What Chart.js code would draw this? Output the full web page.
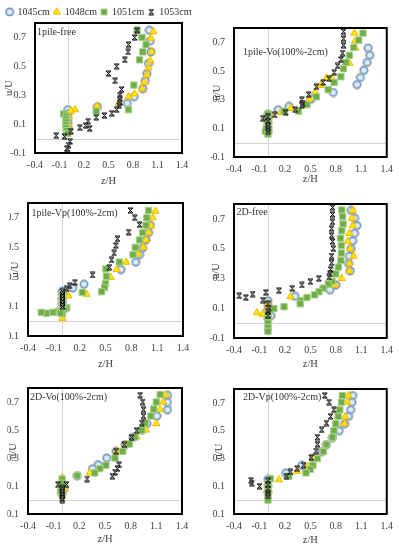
<!DOCTYPE html>
<html>
<head>
<meta charset="utf-8">
<script src="https://cdn.jsdelivr.net/npm/chart.js@4.4.1/dist/chart.umd.min.js"></script>
<style>
  body { margin: 0; background: #fff; width: 399px; height: 550px; position: relative; overflow: hidden; }
  canvas { position: absolute; }
</style>
</head>
<body>
<canvas id="legend" width="198" height="30" style="left:0;top:0"></canvas>
<canvas id="c1"></canvas>
<canvas id="c2"></canvas>
<canvas id="c3"></canvas>
<canvas id="c4"></canvas>
<canvas id="c5"></canvas>
<canvas id="c6"></canvas>
<script>
// series (measuring stations) and axis ticks
const seriesNames = ['1045cm', '1048cm', '1051cm', '1053cm'];
const zTicks = [-0.4, -0.1, 0.2, 0.5, 0.8, 1.1, 1.4];
const zTickLabels = ['-0.4', '-0.1', '0.2', '0.5', '0.8', '1.1', '1.4'];
const uTicks = [-0.1, 0.1, 0.3, 0.5, 0.7];
const uTickLabels = ['-0.1', '0.1', '0.3', '0.5', '0.7'];
const panelTitles = ['1pile-free', '1pile-Vo(100%-2cm)', '1pile-Vp(100%-2cm)', '2D-free', '2D-Vo(100%-2cm)', '2D-Vp(100%-2cm)'];

// [z/H, u/U] pairs
// 1pile-free
const pf1045 = [[1.0,0.75],[1.01,0.675],[1.02,0.60],[0.99,0.52],[0.97,0.45],[0.95,0.40],[0.92,0.345],[0.815,0.29],[0.73,0.245],[0.365,0.22],[0.0,0.2],[0.0,0.17],[0.0,0.14],[0.0,0.11],[0.0,0.08],[0.0,0.05]];
const pf1048 = [[1.05,0.74],[1.02,0.695],[1.03,0.60],[1.01,0.54],[0.99,0.49],[0.97,0.44],[0.94,0.39],[0.91,0.345],[0.82,0.31],[0.745,0.29],[0.63,0.245],[0.36,0.225],[0.09,0.20],[0.04,0.19],[0.01,0.15],[0.01,0.10],[0.02,0.05]];
const pf1051 = [[0.85,0.75],[0.91,0.70],[0.96,0.65],[0.92,0.60],[0.88,0.545],[0.81,0.37],[0.745,0.20],[0.35,0.19],[-0.05,0.17],[-0.02,0.155],[-0.02,0.135],[-0.02,0.115],[-0.02,0.095],[-0.02,0.075],[-0.01,0.055],[0.0,0.035]];
const pf1053 = [[0.85,0.75],[0.82,0.70],[0.745,0.65],[0.74,0.60],[0.70,0.545],[0.60,0.50],[0.50,0.45],[0.58,0.40],[0.66,0.34],[0.64,0.30],[0.64,0.275],[0.64,0.25],[0.63,0.23],[0.60,0.20],[0.54,0.175],[0.45,0.16],[0.35,0.147],[0.25,0.12],[0.22,0.09],[0.15,0.075],[0.27,0.07],[0.04,0.05],[-0.04,0.015],[-0.14,0.02],[0.03,-0.02],[0.01,-0.045],[-0.01,-0.07],[0.0,-0.1]];
// 1pile-Vo
const pvo1045 = [[1.18,0.66],[1.2,0.61],[1.17,0.56],[1.13,0.505],[1.09,0.455],[1.05,0.405],[0.77,0.35],[0.51,0.305],[0.25,0.253],[0.12,0.23],[0.0,0.2],[0.0,0.17],[0.0,0.14],[0.0,0.11],[0.0,0.08]];
const pvo1048 = [[1.02,0.764],[1.03,0.71],[1.03,0.66],[0.96,0.554],[0.75,0.448],[0.69,0.45],[0.62,0.40],[0.556,0.352],[0.49,0.305],[0.27,0.24],[0.15,0.21],[0.02,0.2],[0.0,0.15],[-0.01,0.08]];
const pvo1051 = [[1.12,0.764],[1.07,0.716],[1.01,0.665],[0.96,0.61],[0.92,0.56],[0.89,0.516],[0.86,0.46],[0.78,0.42],[0.71,0.37],[0.57,0.32],[0.46,0.265],[0.36,0.22],[0.19,0.22],[0.0,0.2],[-0.02,0.17],[0.0,0.14],[-0.02,0.1],[-0.03,0.08],[0.0,0.06],[0.01,0.08]];
const pvo1053 = [[0.89,0.775],[0.89,0.725],[0.89,0.68],[0.88,0.625],[0.86,0.58],[0.82,0.535],[0.78,0.49],[0.72,0.446],[0.65,0.42],[0.57,0.39],[0.48,0.335],[0.40,0.30],[0.41,0.275],[0.40,0.26],[0.32,0.23],[0.21,0.21],[0.08,0.194],[-0.06,0.17],[0.0,0.18],[0.0,0.15],[0.0,0.12],[0.0,0.10],[0.0,0.08]];
// 1pile-Vp
const pvp1045 = [[1.02,0.65],[1.0,0.60],[0.97,0.55],[0.93,0.495],[0.895,0.45],[0.85,0.40],[0.68,0.35],[0.25,0.25],[0.12,0.225],[0.0,0.205],[0.0,0.18],[0.0,0.15],[0.0,0.12],[0.0,0.09]];
const pvp1048 = [[1.08,0.745],[1.05,0.70],[1.03,0.645],[1.0,0.60],[0.97,0.55],[0.94,0.50],[0.88,0.455],[0.74,0.40],[0.63,0.35],[0.56,0.297],[0.28,0.183],[0.07,0.172],[0.0,0.12],[0.0,0.08],[0.0,0.02]];
const pvp1051 = [[1.0,0.75],[0.98,0.70],[0.97,0.65],[0.93,0.60],[0.895,0.55],[0.845,0.50],[0.82,0.45],[0.66,0.40],[0.505,0.354],[0.51,0.304],[0.50,0.256],[0.49,0.229],[0.455,0.20],[0.23,0.195],[0.0,0.18],[0.0,0.15],[0.0,0.12],[0.05,0.09],[0.02,0.08],[-0.03,0.07],[-0.06,0.065],[-0.11,0.06],[-0.186,0.054],[-0.245,0.06],[0.0,0.05],[-0.02,0.055]];
const pvp1053 = [[0.79,0.75],[0.84,0.70],[0.895,0.653],[0.77,0.603],[0.64,0.558],[0.62,0.512],[0.60,0.462],[0.57,0.415],[0.545,0.365],[0.35,0.313],[0.145,0.263],[0.086,0.24],[0.05,0.22],[0.0,0.2],[0.0,0.18],[0.0,0.16],[0.0,0.14],[0.0,0.12],[0.0,0.10]];
// 2D-free
const df1045 = [[0.98,0.757],[1.02,0.705],[1.05,0.655],[1.02,0.603],[1.0,0.553],[0.98,0.50],[0.96,0.45],[0.95,0.40],[0.97,0.35],[0.80,0.256],[0.73,0.224],[0.32,0.18],[0.0,0.15],[0.0,0.12],[0.0,0.09],[0.035,0.05],[-0.02,0.07],[0.0,0.03]];
const df1048 = [[1.0,0.757],[0.99,0.705],[1.0,0.655],[0.96,0.603],[0.94,0.55],[0.97,0.50],[1.01,0.45],[0.96,0.40],[0.96,0.35],[0.87,0.30],[0.79,0.256],[0.266,0.177],[-0.13,0.07],[-0.06,0.06],[0.0,0.10],[0.0,0.13]];
const df1051 = [[0.87,0.76],[0.88,0.716],[0.885,0.666],[0.87,0.62],[0.855,0.57],[0.865,0.52],[0.865,0.47],[0.86,0.42],[0.83,0.376],[0.80,0.33],[0.755,0.28],[0.71,0.263],[0.65,0.235],[0.60,0.21],[0.55,0.19],[0.46,0.172],[0.38,0.15],[0.38,0.13],[0.19,0.11],[0.07,0.097],[0.0,0.06],[0.0,0.03],[0.0,0.0],[0.0,-0.03],[0.0,-0.055]];
const df1053 = [[0.76,0.778],[0.76,0.73],[0.76,0.68],[0.75,0.635],[0.75,0.59],[0.76,0.548],[0.77,0.50],[0.75,0.45],[0.75,0.405],[0.74,0.36],[0.73,0.33],[0.72,0.31],[0.60,0.30],[0.50,0.278],[0.40,0.256],[0.285,0.233],[0.13,0.218],[-0.025,0.206],[-0.06,0.154],[-0.18,0.195],[-0.26,0.172],[-0.34,0.183],[0.0,0.13],[0.01,0.10],[0.0,0.08],[0.0,0.05]];
// 2D-Vo
const dvo1045 = [[1.23,0.748],[1.23,0.698],[1.23,0.645],[1.106,0.60],[0.99,0.545],[0.93,0.498],[0.83,0.448],[0.735,0.395],[0.63,0.348],[0.52,0.30],[0.42,0.252],[0.355,0.224],[0.175,0.174],[0.0,0.12],[0.02,0.08],[0.0,0.05]];
const dvo1048 = [[1.21,0.75],[1.18,0.70],[1.145,0.645],[1.1,0.545],[0.977,0.50],[0.87,0.45],[0.745,0.40],[0.637,0.348],[0.32,0.193],[0.0,0.16],[0.0,0.13],[0.03,0.08]];
const dvo1051 = [[1.145,0.752],[1.1,0.70],[1.07,0.65],[1.036,0.60],[0.97,0.55],[0.93,0.498],[0.85,0.45],[0.785,0.40],[0.707,0.348],[0.617,0.30],[0.51,0.248],[0.44,0.224],[0.38,0.193],[0.175,0.174],[0.0,0.15],[0.0,0.12],[0.0,0.09],[-0.02,0.06],[0.0,0.03]];
const dvo1053 = [[0.91,0.748],[0.94,0.70],[0.95,0.645],[0.95,0.60],[0.93,0.55],[0.87,0.495],[0.81,0.448],[0.727,0.395],[0.63,0.348],[0.664,0.252],[0.645,0.224],[0.617,0.198],[0.586,0.17],[0.29,0.15],[0.05,0.11],[-0.05,0.11],[0.0,0.09],[0.0,0.07],[0.0,0.05],[0.0,0.03],[0.0,0.01],[0.0,0.0]];
// 2D-Vp
const dvp1045 = [[1.0,0.753],[0.99,0.705],[0.975,0.65],[0.95,0.603],[0.905,0.55],[0.84,0.50],[0.76,0.45],[0.69,0.40],[0.64,0.35],[0.537,0.30],[0.40,0.25],[0.21,0.196],[0.0,0.15],[0.0,0.10],[0.0,0.06]];
const dvp1048 = [[0.95,0.753],[0.935,0.705],[0.91,0.60],[0.90,0.55],[0.54,0.30],[0.47,0.244],[0.343,0.208],[0.13,0.147],[0.02,0.15],[0.0,0.10],[0.0,0.05]];
const dvp1051 = [[0.877,0.753],[0.866,0.705],[0.847,0.65],[0.827,0.603],[0.80,0.55],[0.777,0.50],[0.76,0.453],[0.69,0.40],[0.653,0.35],[0.583,0.30],[0.53,0.25],[0.50,0.222],[0.448,0.196],[0.246,0.172],[0.03,0.155],[0.0,0.12],[0.0,0.09],[0.0,0.06],[0.0,0.03],[0.0,0.0]];
const dvp1053 = [[0.67,0.753],[0.72,0.705],[0.777,0.65],[0.738,0.603],[0.69,0.555],[0.634,0.506],[0.583,0.453],[0.583,0.402],[0.567,0.353],[0.51,0.307],[0.42,0.252],[0.343,0.227],[0.266,0.203],[0.216,0.172],[-0.10,0.10],[-0.19,0.123],[-0.20,0.142],[0.0,0.14],[0.0,0.11],[0.0,0.08],[0.0,0.05],[0.0,0.03]];

// little marker pictures used as point styles
function makeMarker(size, draw) {
  const c = document.createElement('canvas');
  c.width = c.height = size;
  draw(c.getContext('2d'), size);
  return c;
}
const ringedCircle = makeMarker(10, (g, s) => {
  g.beginPath(); g.arc(s / 2, s / 2, 4.4, 0, Math.PI * 2);
  g.strokeStyle = 'rgba(244,177,131,0.8)'; g.lineWidth = 1; g.stroke();
  g.beginPath(); g.arc(s / 2, s / 2, 3.5, 0, Math.PI * 2);
  g.fillStyle = '#ddebf7'; g.fill();
  g.strokeStyle = '#5b9bd5'; g.lineWidth = 1.4; g.stroke();
});
const hourglass = makeMarker(7, (g, s) => {
  g.beginPath();
  g.moveTo(1, 1); g.lineTo(s - 1, 1); g.lineTo(1, s - 1); g.lineTo(s - 1, s - 1); g.closePath();
  g.fillStyle = '#b0b0b0'; g.fill();
  g.strokeStyle = '#000'; g.lineWidth = 1; g.stroke();
});

// marker look per series
const markerStyles = [
  { pointStyle: ringedCircle, pointBackgroundColor: '#ddebf7', pointBorderColor: '#5b9bd5', pointBorderWidth: 1.3, pointRadius: 4 },
  { pointStyle: 'triangle',   pointBackgroundColor: '#ffe600', pointBorderColor: '#f2b800', pointBorderWidth: 1,   pointRadius: 4.2 },
  { pointStyle: 'rect',       pointBackgroundColor: '#70ad47', pointBorderColor: '#a9d18e', pointBorderWidth: 1,   pointRadius: 4.5 },
  { pointStyle: hourglass,    pointBackgroundColor: '#000',    pointBorderColor: '#000',    pointBorderWidth: 1,   pointRadius: 3 }
];
const drawOrder = [3, 2, 1, 0]; // black on top

Chart.defaults.font.family = "'Liberation Serif', 'Times New Roman', serif";
Chart.defaults.font.size = 10;
Chart.defaults.color = '#404040';

// grey axis lines at z=0 and u=0
const zeroLines = {
  id: 'zeroLines',
  beforeDatasetsDraw(chart) {
    const { ctx, chartArea: a, scales: { x, y } } = chart;
    const x0 = Math.round(x.getPixelForValue(0)) + 0.5;
    const y0 = Math.round(y.getPixelForValue(0)) + 0.5;
    ctx.save();
    ctx.strokeStyle = '#d4d4d4';
    ctx.lineWidth = 1;
    ctx.beginPath();
    ctx.moveTo(x0, a.top); ctx.lineTo(x0, a.bottom);
    ctx.moveTo(a.left, y0); ctx.lineTo(a.right, y0);
    ctx.stroke();
    ctx.restore();
  }
};

// black frame + panel caption
const frame = {
  id: 'frame',
  afterDraw(chart, args, opts) {
    const { ctx, chartArea: a } = chart;
    ctx.save();
    ctx.strokeStyle = '#000';
    ctx.lineWidth = 2;
    ctx.strokeRect(a.left, a.top, a.right - a.left, a.bottom - a.top);
    ctx.fillStyle = '#333';
    ctx.font = "10px 'Liberation Serif', serif";
    ctx.textBaseline = 'middle';
    ctx.fillText(opts.text, a.left + opts.dx, a.top + opts.dy);
    ctx.restore();
  }
};

// cell: [left, top, width, height]; box: [L, R, T, B] of the plot frame
const panels = [
  { id: 'c1', series: [pf1045, pf1048, pf1051, pf1053],     title: panelTitles[0], cell: [0, 0, 200, 200],     box: [35, 182, 23, 153],  yw: 32,   xh: 35, cap: [2, 9] },
  { id: 'c2', series: [pvo1045, pvo1048, pvo1051, pvo1053], title: panelTitles[1], cell: [196, 0, 203, 200],   box: [234, 389, 28, 157], yw: 23.3, xh: 29, cap: [9, 24] },
  { id: 'c3', series: [pvp1045, pvp1048, pvp1051, pvp1053], title: panelTitles[2], cell: [0, 185, 200, 195],   box: [28, 183, 203, 336], yw: 18.8, xh: 35, cap: [3.5, 10] },
  { id: 'c4', series: [df1045, df1048, df1051, df1053],     title: panelTitles[3], cell: [196, 185, 203, 195], box: [234, 389, 204, 338], yw: 23.6, xh: 33, cap: [2.5, 8] },
  { id: 'c5', series: [dvo1045, dvo1048, dvo1051, dvo1053], title: panelTitles[4], cell: [0, 370, 200, 180],   box: [28, 182, 388, 514], yw: 20.6, xh: 32, cap: [2, 9] },
  { id: 'c6', series: [dvp1045, dvp1048, dvp1051, dvp1053], title: panelTitles[5], cell: [196, 370, 203, 180], box: [234, 389, 389, 514], yw: 21.3, xh: 33, cap: [9, 8] }
];

panels.forEach(p => {
  const [cl, ct, cw, ch] = p.cell;
  const [L, R, T, B] = p.box;
  const cv = document.getElementById(p.id);
  cv.width = cw; cv.height = ch;
  cv.style.left = cl + 'px'; cv.style.top = ct + 'px';

  new Chart(cv, {
    type: 'scatter',
    data: {
      datasets: p.series.map((pts, i) => ({
        label: seriesNames[i],
        data: pts.map(([x, y]) => ({ x, y })),
        order: drawOrder[i],
        ...markerStyles[i]
      }))
    },
    options: {
      responsive: false,
      animation: false,
      events: [],
      layout: { padding: { left: L - cl - p.yw, right: cl + cw - R, top: T - ct, bottom: ct + ch - B - p.xh } },
      plugins: {
        legend: { display: false },
        tooltip: { enabled: false },
        frame: { text: p.title, dx: p.cap[0], dy: p.cap[1] }
      },
      scales: {
        x: {
          type: 'linear', min: -0.4, max: 1.4,
          afterBuildTicks: s => { s.ticks = zTicks.map(v => ({ value: v })); },
          afterFit: s => { s.height = p.xh; },
          grid: { display: false, drawTicks: false },
          border: { display: false },
          ticks: { padding: 6, autoSkip: false, maxRotation: 0, callback: (v, i) => zTickLabels[i] },
          title: { display: true, text: 'z/H', padding: 0, font: { size: 10.5 } }
        },
        y: {
          type: 'linear', min: -0.1, max: 0.8,
          afterBuildTicks: s => { s.ticks = uTicks.map(v => ({ value: v })); },
          afterFit: s => { s.width = p.yw; },
          grid: { display: false, drawTicks: false },
          border: { display: false },
          ticks: { padding: 9, autoSkip: false, callback: (v, i) => uTickLabels[i] },
          title: { display: true, text: 'u/U', padding: 0, font: { size: 10.5 } }
        }
      }
    },
    plugins: [zeroLines, frame]
  });
});

// shared legend across the top
new Chart(document.getElementById('legend'), {
  type: 'scatter',
  data: { datasets: seriesNames.map((n, i) => ({ label: n, data: [], ...markerStyles[i] })) },
  options: {
    responsive: false,
    animation: false,
    events: [],
    layout: { padding: { top: 3 } },
    scales: { x: { display: false }, y: { display: false } },
    plugins: {
      tooltip: { enabled: false },
      legend: {
        display: true, position: 'top',
        labels: { usePointStyle: true, boxWidth: 6, boxHeight: 6, padding: 4, color: '#333', font: { size: 10 } }
      }
    }
  }
});
</script>
</body>
</html>
